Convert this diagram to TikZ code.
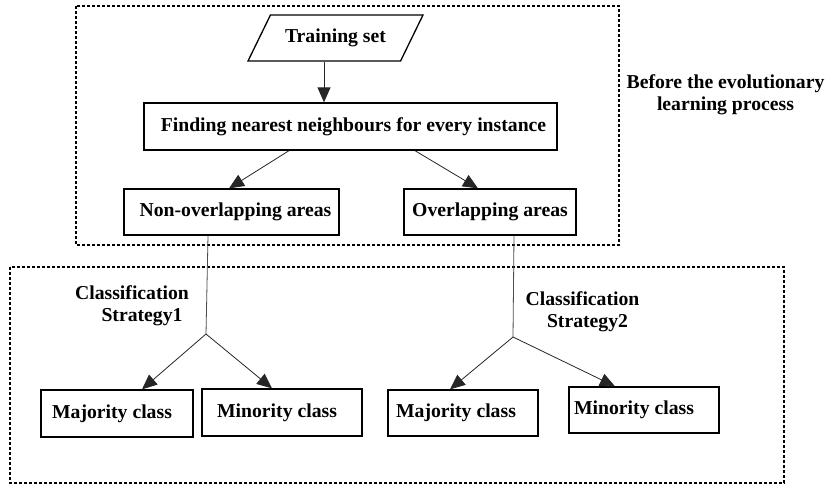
\documentclass[tikz,border=0pt]{standalone}
\usepackage{fontspec}
\setmainfont{Liberation Serif}
\usetikzlibrary{arrows.meta,shapes.geometric}
\begin{document}
\begin{tikzpicture}[x=1pt,y=-1pt,
  every node/.style={font=\fontsize{19.7}{22}\selectfont\bfseries, inner sep=0pt},
  box/.style={draw, line width=1.3pt, align=center},
  region/.style={draw, line width=1.2pt, dash pattern=on 3pt off 2pt},
  arr/.style={draw=black!85, line width=0.8pt, -{Triangle[length=15pt,width=13pt]}},
  link/.style={draw=black!70, line width=0.8pt},
  lbl/.style={align=center}
]
\useasboundingbox (0,0) rectangle (826,485);

% dashed grouping frames
\draw[region] (76,6) rectangle (619,245);
\draw[region] (10,267) rectangle (784,483);

% input data
\node[draw, line width=1.3pt, trapezium, trapezium left angle=46, trapezium right angle=134,
      trapezium stretches=true, minimum width=175pt, minimum height=46pt] (ts) at (335.5,38) {Training set};

% preprocessing
\node[box, minimum width=413pt, minimum height=47pt] (fn) at (350.5,126.5) {\hspace*{6pt}Finding nearest neighbours for every instance};
\node[box, minimum width=215pt, minimum height=46pt] (no) at (231.5,212) {\hspace*{8pt}Non-overlapping areas};
\node[box, minimum width=172pt, minimum height=46pt] (ov) at (490,212) {Overlapping areas};

% class boxes
\node[box, minimum width=152pt, minimum height=47pt] (ma1) at (117,413.5) {Majority class\hspace*{10pt}};
\node[box, minimum width=160pt, minimum height=47pt] (mi1) at (282,412.5) {Minority class\hspace*{10pt}};
\node[box, minimum width=150pt, minimum height=46pt] (ma2) at (463,413) {Majority class\hspace*{14pt}};
\node[box, minimum width=150pt, minimum height=46pt] (mi2) at (644,410) {Minority class\hspace*{20pt}};

% side labels
\node[lbl] (before) at (725.5,95) {Before the evolutionary\\learning process};
\node[lbl] (cs1) at (132,306) {Classification\\\hspace*{20pt}Strategy1};
\node[lbl] (cs2) at (582.5,312) {Classification\\\hspace*{10pt}Strategy2};

% branch points
\coordinate (j1) at (206,334);
\coordinate (j2) at (513,337);

% connectors
\draw[arr] ([xshift=-11.5pt]ts.south) -- ([xshift=-11.5pt]ts.south |- fn.north);
\draw[arr] ([xshift=-61.5pt]fn.south) -- ([xshift=-2.5pt]no.north);
\draw[arr] ([xshift=64.5pt]fn.south) -- ([xshift=-12pt]ov.north);
\draw[link] ([xshift=-23.5pt]no.south) -- (j1);
\draw[link] ([xshift=24pt]ov.south) -- (j2);
\draw[arr] (j1) -- ([xshift=25pt]ma1.north);
\draw[arr] (j1) -- ([xshift=-10pt]mi1.north);
\draw[arr] (j2) -- ([xshift=-13pt]ma2.north);
\draw[arr] (j2) -- ([xshift=-29pt]mi2.north);
\end{tikzpicture}
\end{document}
